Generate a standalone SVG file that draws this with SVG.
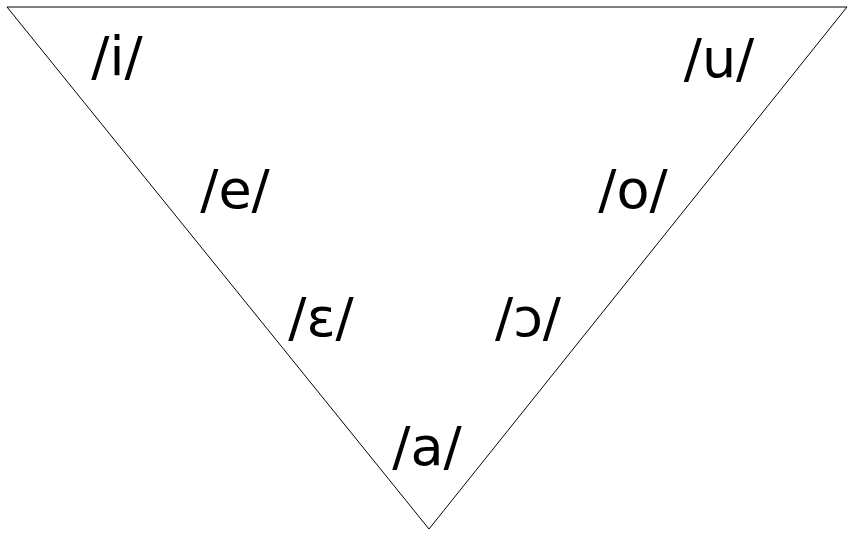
<svg xmlns="http://www.w3.org/2000/svg" width="854" height="537" viewBox="0 0 854 537">
<style>
text { font-family: "DejaVu Sans", sans-serif; font-size: 54px; fill: #000; text-anchor: middle; }
</style>
<rect width="854" height="537" fill="#fff"/>
<g id="chart">
<polygon points="7,7 847,7 429,529" fill="none" stroke="#000" stroke-width="1"/>
</g>
<g id="vowels">
<text id="i" x="117" y="75">/i/</text>
<text id="u" x="719" y="77">/u/</text>
<text id="e" x="235" y="208">/e/</text>
<text id="o" x="633" y="208">/o/</text>
<text id="eps" x="321" y="336">/ɛ/</text>
<text id="open-o" x="528" y="336">/ɔ/</text>
<text id="a" x="427" y="465">/a/</text>
</g>
</svg>
